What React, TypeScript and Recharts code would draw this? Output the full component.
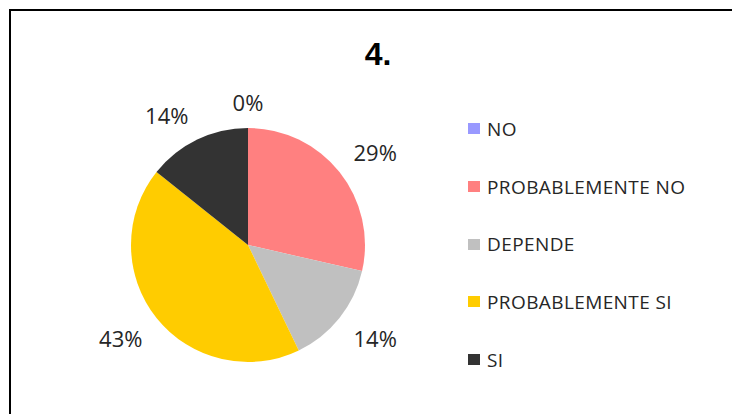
import { PieChart, Pie, Cell, Legend } from 'recharts'

const categories = ['NO', 'PROBABLEMENTE NO', 'DEPENDE', 'PROBABLEMENTE SI', 'SI']
const counts = [0, 2, 1, 3, 1]
const colors = ['#9999FF', '#FF8080', '#C0C0C0', '#FFCC00', '#333333']
const title = '4.'

const data = categories.map((name, i) => ({ name, value: counts[i] }))

const RADIAN = Math.PI / 180
const clamp = (v: number) => Math.max(-1, Math.min(1, v))

// outside-end labels: the text box sits just past the rim, pushed outward
function renderLabel(props: any) {
  const { cx, cy, midAngle, outerRadius, percent } = props
  const cos = Math.cos(-midAngle * RADIAN)
  const sin = Math.sin(-midAngle * RADIAN)
  const r = outerRadius + 15
  const x = cx + r * cos + 24 * clamp(cos * 3)
  const y = cy + r * sin + 11 * clamp(sin * 3)
  return (
    <text
      x={x}
      y={y}
      fill="#262626"
      textAnchor="middle"
      dominantBaseline="central"
      fontFamily="'Open Sans', sans-serif"
      fontSize={22}
    >
      {`${Math.round((percent || 0) * 100)}%`}
    </text>
  )
}

function LegendList() {
  return (
    <div>
      {categories.map((name, i) => (
        <div
          key={name}
          style={{ height: 57.7, display: 'flex', alignItems: 'center', fontFamily: "'Open Sans', sans-serif", fontSize: 19, letterSpacing: 0.4, color: '#262626' }}
        >
          <span style={{ width: 12, height: 11, background: colors[i], display: 'inline-block', marginRight: 7 }} />
          {name}
        </div>
      ))}
    </div>
  )
}

export default function App() {
  return (
    <div style={{ position: 'fixed', left: 0, top: 0, width: 732, height: 414, background: '#fff', overflow: 'hidden' }}>
      <div style={{ position: 'absolute', left: 9, top: 9, width: 760, height: 440, borderTop: '2.5px solid #000', borderLeft: '2.5px solid #000' }} />
      <div
        style={{ position: 'absolute', left: 0, width: 756, top: 36, textAlign: 'center', fontFamily: "'Liberation Sans', Arial, sans-serif", fontWeight: 'bold', fontSize: 32, color: '#000' }}
      >
        {title}
      </div>
      <div style={{ position: 'absolute', left: 0, top: 0 }}>
        <PieChart width={732} height={414} margin={{ top: 0, right: 0, bottom: 0, left: 0 }}>
          <Pie
            data={data}
            dataKey="value"
            nameKey="name"
            cx={248}
            cy={245}
            outerRadius={117}
            startAngle={90}
            endAngle={-270}
            stroke="none"
            label={renderLabel}
            labelLine={false}
            isAnimationActive={false}
          >
            {data.map((d, i) => (
              <Cell key={d.name} fill={colors[i]} />
            ))}
          </Pie>
          <Legend
            content={() => <LegendList />}
            wrapperStyle={{ position: 'absolute', left: 468, top: 100, width: 264 }}
          />
        </PieChart>
      </div>
    </div>
  )
}
